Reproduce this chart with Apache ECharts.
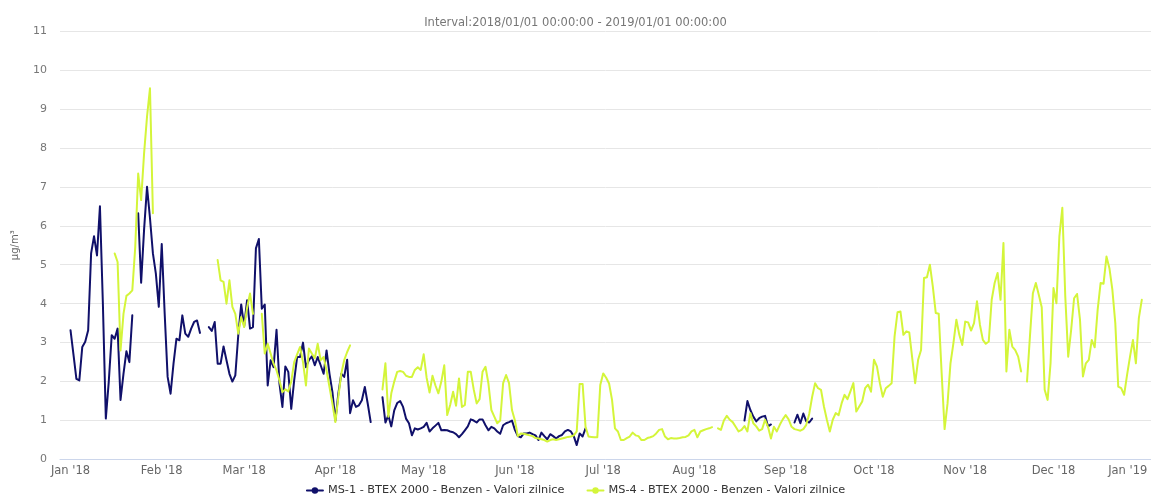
<!DOCTYPE html>
<html>
<head>
<meta charset="utf-8">
<title>Benzen 2018</title>
<script src="https://cdn.jsdelivr.net/npm/echarts@6/dist/echarts.min.js"></script>
<style>
  html, body { margin: 0; padding: 0; background: #fff; }
  #chart { width: 1151px; height: 496px; }
</style>
</head>
<body>
<div id="chart"></div>
<script>
// Daily benzene averages (µg/m³) for 2018, one value per day starting 1 January; null = no data.
const firstDay = [2018, 0, 1];

const ms1Daily = [
  // Jan
  3.32, 2.7, 2.07, 2.03, 2.89, 3.02, 3.32, 5.29, 5.73, 5.24, 6.5, 4.0, 1.05, 2.0, 3.19, 3.1, 3.36, 1.53, 2.2, 2.78, 2.5, 3.7, null, 6.32, 4.54, 5.9, 7.0, 6.2, 5.29, 4.77, 3.92,
  // Feb
  5.53, 3.74, 2.12, 1.69, 2.46, 3.1, 3.06, 3.7, 3.23, 3.15, 3.36, 3.53, 3.57, 3.25, null, null, 3.4, 3.3, 3.53, 2.46, 2.46, 2.9, 2.55, 2.2, 2.0, 2.16, 3.19, 3.98,
  // Mar
  3.42, 4.09, 3.36, 3.4, 5.42, 5.66, 3.87, 3.98, 1.9, 2.55, 2.37, 3.33, 1.95, 1.35, 2.39, 2.25, 1.3, 2.03, 2.63, 2.63, 3.0, 2.37, 2.55, 2.65, 2.42, 2.63, 2.42, 2.2, 2.8, 2.2, 1.73,
  // Apr
  1.0, 1.69, 2.2, 2.12, 2.56, 1.19, 1.52, 1.35, 1.39, 1.52, 1.86, 1.43, 0.96, null, null, null, 1.6, 0.95, 1.13, 0.85, 1.26, 1.45, 1.5, 1.35, 1.05, 0.93, 0.62, 0.8, 0.77, 0.8,
  // May
  0.84, 0.94, 0.72, 0.8, 0.87, 0.94, 0.75, 0.76, 0.75, 0.72, 0.7, 0.65, 0.57, 0.65, 0.75, 0.85, 1.03, 1.0, 0.95, 1.03, 1.03, 0.88, 0.75, 0.84, 0.8, 0.72, 0.66, 0.88, 0.93, 0.96, 1.0,
  // Jun
  0.76, 0.6, 0.57, 0.67, 0.67, 0.69, 0.65, 0.62, 0.5, 0.69, 0.6, 0.52, 0.65, 0.6, 0.54, 0.6, 0.63, 0.72, 0.76, 0.72, 0.6, 0.37, 0.67, 0.59, 0.8, null, null, null, null, null,
  // Jul
  null, null, null, null, null, null, null, null, null, null, null, null, null, null, null, null, null, null, null, null, null, null, null, null, null, null, null, null, null, null, null,
  // Aug
  null, null, null, null, null, null, null, null, null, null, null, null, null, null, null, null, null, 1.0, 1.5, 1.27, 1.1, 0.98, 1.06, 1.1, 1.12, 0.85, 0.9, null, null, null, null,
  // Sep
  null, null, null, 0.95, 1.15, 0.93, 1.18, 0.98, 0.95, 1.05, null, null, null, null, null, null, null, null, null, null, null, null, null, null, null, null, null, null, null, null
];

const ms4Daily = [
  // Jan
  null, null, null, null, null, null, null, null, null, null, null, null, null, null, null, 5.29, 5.07, 2.8, 3.74, 4.2, 4.26, 4.34, 5.46, 7.34, 6.66, 7.86, 8.8, 9.53, 6.32, null, null,
  // Feb
  null, null, null, null, null, null, null, null, null, null, null, null, null, null, null, null, null, null, null, 5.12, 4.6, 4.56, 4.0, 4.6, 3.92, 3.74, 3.23, 3.66,
  // Mar
  3.4, 3.9, 4.26, 3.74, null, null, 3.74, 2.72, 2.97, 2.72, 2.46, 2.29, 2.03, 1.73, 1.8, 1.75, 2.0, 2.5, 2.7, 2.89, 2.5, 1.9, 2.85, 2.72, 2.6, 2.97, 2.55, 2.63, 2.29, 1.86, 1.43,
  // Apr
  0.96, 1.6, 2.2, 2.55, 2.76, 2.93, null, null, null, null, null, null, null, null, null, null, 1.8, 2.47, 1.1, 1.7, 2.0, 2.25, 2.27, 2.25, 2.15, 2.12, 2.12, 2.3, 2.37, 2.3,
  // May
  2.7, 2.1, 1.72, 2.15, 1.9, 1.7, 2.0, 2.42, 1.14, 1.4, 1.74, 1.38, 2.08, 1.35, 1.4, 2.25, 2.25, 1.8, 1.44, 1.55, 2.25, 2.38, 1.95, 1.27, 1.1, 0.93, 1.0, 1.96, 2.17, 1.96, 1.27,
  // Jun
  1.0, 0.6, 0.67, 0.66, 0.64, 0.62, 0.6, 0.55, 0.54, 0.52, 0.5, 0.46, 0.5, 0.52, 0.5, 0.52, 0.54, 0.56, 0.58, 0.59, 0.62, 0.72, 1.94, 1.94, 0.84, 0.59, 0.58, 0.57, 0.57, 1.91,
  // Jul
  2.21, 2.1, 1.95, 1.53, 0.8, 0.72, 0.5, 0.5, 0.55, 0.59, 0.69, 0.62, 0.6, 0.5, 0.5, 0.55, 0.57, 0.6, 0.67, 0.76, 0.78, 0.59, 0.52, 0.55, 0.54, 0.54, 0.55, 0.57, 0.58, 0.62, 0.72,
  // Aug
  0.76, 0.57, 0.72, 0.75, 0.78, 0.8, 0.83, null, 0.8, 0.76, 1.0, 1.12, 1.02, 0.96, 0.84, 0.72, 0.76, 0.86, 0.72, 1.19, 0.93, 0.85, 0.74, 0.78, 1.02, 0.84, 0.54, 0.84, 0.72, 0.89, 1.03,
  // Sep
  1.14, 1.03, 0.84, 0.78, 0.76, 0.74, 0.78, 0.89, 1.17, 1.61, 1.96, 1.83, 1.79, 1.36, 1.02, 0.72, 1.02, 1.19, 1.14, 1.44, 1.66, 1.55, 1.75, 1.96, 1.23, 1.36, 1.49, 1.83, 1.92, 1.74,
  // Oct
  2.56, 2.39, 1.96, 1.61, 1.83, 1.89, 1.96, 3.16, 3.78, 3.8, 3.2, 3.29, 3.26, 2.6, 1.96, 2.56, 2.81, 4.66, 4.68, 5.0, 4.44, 3.76, 3.74, 2.21, 0.78, 1.44, 2.47, 2.99, 3.59, 3.2, 2.94,
  // Nov
  3.54, 3.52, 3.31, 3.5, 4.06, 3.46, 3.07, 2.97, 3.03, 4.1, 4.53, 4.79, 4.1, 5.56, 2.26, 3.33, 2.9, 2.81, 2.64, 2.26, null, 2.0, 3.16, 4.27, 4.53, 4.23, 3.91, 1.79, 1.53, 2.47,
  // Dec
  4.4, 4.01, 5.73, 6.46, 4.19, 2.64, 3.33, 4.14, 4.25, 3.59, 2.13, 2.47, 2.56, 3.07, 2.88, 3.84, 4.53, 4.51, 5.21, 4.91, 4.36, 3.5, 1.87, 1.83, 1.66, 2.17, 2.64, 3.07, 2.47, 3.63, 4.1
];

const seriesNames = [
  'MS-1 - BTEX 2000 - Benzen - Valori zilnice',
  'MS-4 - BTEX 2000 - Benzen - Valori zilnice'
];
const seriesColors = ['#10106a', '#d4f53a'];
const monthLabels = ['Jan', 'Feb', 'Mar', 'Apr', 'May', 'Jun', 'Jul', 'Aug', 'Sep', 'Oct', 'Nov', 'Dec'];
const titleText = 'Interval:2018/01/01 00:00:00 - 2019/01/01 00:00:00';
const unitLabel = 'µg/m³';

const DAY = 24 * 3600 * 1000;

function toPairs(values) {
  return values.map(function (v, i) {
    const t = new Date(firstDay[0], firstDay[1], firstDay[2] + i).getTime();
    return [t, v];
  });
}

const yearStart = new Date(2018, 0, 1).getTime();
const axisMin = yearStart - 3.57 * DAY;
const axisMax = axisMin + 370.7 * DAY;

const font = 'DejaVu Sans';

const chart = echarts.init(document.getElementById('chart'), null, { renderer: 'canvas' });

chart.setOption({
  animation: false,
  backgroundColor: '#ffffff',
  textStyle: { fontFamily: font },
  title: {
    text: titleText,
    left: 'center',
    top: 12,
    textStyle: { fontFamily: font, fontSize: 11.5, fontWeight: 'normal', color: '#777777' }
  },
  legend: {
    top: 480,
    left: 'center',
    itemWidth: 16,
    itemHeight: 8,
    itemGap: 22,
    textStyle: { fontFamily: font, fontSize: 11.3, color: '#333333' },
    data: seriesNames
  },
  grid: { left: 60, right: 0, top: 31, bottom: 36.5, containLabel: false, outerBoundsMode: 'none' },
  xAxis: {
    type: 'time',
    min: axisMin,
    max: axisMax,
    splitNumber: 12,
    axisLine: { show: true, lineStyle: { color: '#ccd6eb', width: 1 } },
    axisTick: { show: false },
    splitLine: { show: false },
    axisLabel: {
      fontFamily: font,
      fontSize: 11.5,
      color: '#666666',
      margin: 6,
      hideOverlap: false,
      formatter: function (value) {
        const d = new Date(value);
        const text = monthLabels[d.getMonth()] + " '" + String(d.getFullYear()).slice(2);
        // the label past the last data day is pulled back inside the chart edge
        return value > axisMax - 5 * DAY ? '{edge|' + text + '}' : text;
      },
      rich: {
        edge: { fontFamily: font, fontSize: 11.5, color: '#666666', padding: [0, 34, 0, 0] }
      }
    }
  },
  yAxis: {
    type: 'value',
    min: 0,
    max: 11,
    interval: 1,
    name: unitLabel,
    nameLocation: 'middle',
    nameGap: 40,
    nameTextStyle: { fontFamily: font, fontSize: 10, color: '#666666' },
    axisLine: { show: false },
    axisTick: { show: false },
    splitLine: { lineStyle: { color: '#e6e6e6', width: 1 } },
    axisLabel: { fontFamily: font, fontSize: 11, color: '#777777', margin: 13 }
  },
  series: [
    {
      name: seriesNames[0],
      type: 'line',
      data: toPairs(ms1Daily),
      color: seriesColors[0],
      showSymbol: false,
      symbol: 'circle',
      symbolSize: 7,
      connectNulls: false,
      lineStyle: { width: 2, join: 'round', cap: 'round' }
    },
    {
      name: seriesNames[1],
      type: 'line',
      data: toPairs(ms4Daily),
      color: seriesColors[1],
      showSymbol: false,
      symbol: 'circle',
      symbolSize: 7,
      connectNulls: false,
      lineStyle: { width: 2, join: 'round', cap: 'round' }
    }
  ]
});
</script>
</body>
</html>
